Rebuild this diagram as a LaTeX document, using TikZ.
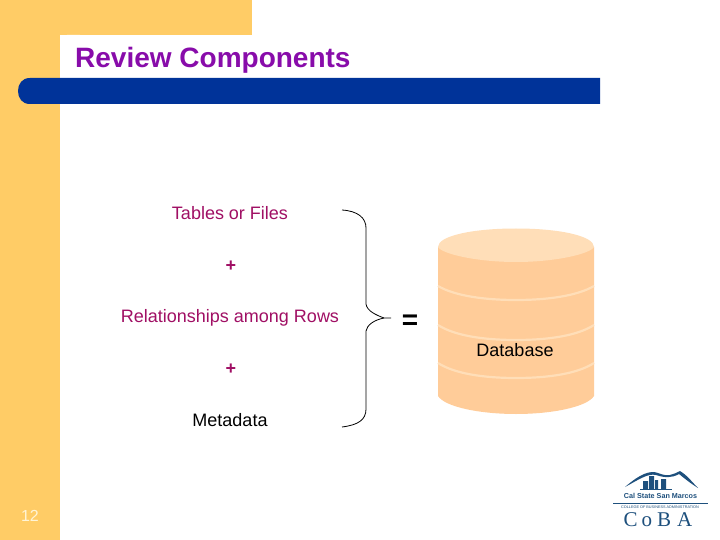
\documentclass[tikz,border=0pt]{standalone}
\usepackage{fontspec}
\setmainfont{Liberation Sans}
\newfontfamily\logoserif{Liberation Serif}
\definecolor{sidebar}{RGB}{255,204,102}
\definecolor{barblue}{RGB}{0,51,153}
\definecolor{titlepurple}{RGB}{136,12,170}
\definecolor{labelpink}{RGB}{160,15,100}
\definecolor{cylbody}{RGB}{255,204,153}
\definecolor{cyltop}{RGB}{255,222,184}
\definecolor{logoblue}{RGB}{30,80,125}
\definecolor{numcream}{RGB}{255,245,215}
\tikzset{
  px/.style={x=1pt,y=-1pt},
  label/.style={font=\fontsize{18}{21}\selectfont,text=labelpink,inner sep=0pt,anchor=center},
  plussign/.style={font=\fontsize{18}{21}\selectfont\bfseries,text=labelpink,inner sep=0pt,anchor=center},
  brace/.style={draw=black,line width=0.8pt},
  band/.style={draw=cyltop,line width=2.2pt},
}
\begin{document}
\begin{tikzpicture}[px]
\useasboundingbox (0,0) rectangle (720,540);
\fill[white] (0,0) rectangle (720,540);
% frame
\fill[sidebar] (0,0) rectangle (252,35);
\fill[sidebar] (0,0) rectangle (60,540);
\fill[white] (61,60) -- (61,41) .. controls (61,37) and (63,35) .. (67,35) -- (80,35) -- (80,60) -- cycle;
\fill[barblue] (30,78) -- (600,78) -- (600,104) -- (30,104) .. controls (22,104) and (18,98) .. (18,91) .. controls (18,84) and (22,78) .. (30,78) -- cycle;
\node[font=\fontsize{28}{32}\selectfont\bfseries,text=titlepurple,inner sep=0pt,anchor=west] (title) at (75,60) {Review Components};
% labels
\node[label] (tables) at (230,213) {Tables or Files};
\node[plussign] (plusa) at (231,266) {+};
\node[label] (rel) at (230,318) {Relationships among Rows};
\node[plussign] (plusb) at (231,369.5) {+};
\node[label,text=black] (meta) at (230,420) {Metadata};
% brace
\coordinate (bt) at (342,210);
\coordinate (bm) at (391,318);
\coordinate (bb) at (342,427);
\draw[brace] (bt) .. controls (358,211) and (366,218) .. (366,228) -- (366,304) .. controls (367,311) and (376,315) .. (384,318) -- (bm);
\draw[brace] (bb) .. controls (358,425) and (366,420) .. (366,409) -- (366,331) .. controls (367,325) and (374,320) .. (384,318);
\node[font=\fontsize{28}{30}\selectfont\bfseries,inner sep=0pt] (eq) at (410,322) {=};
% cylinder
\fill[cylbody] (438,247) -- (438,396) .. controls (445,407) and (480,414) .. (516,414) .. controls (552,414) and (587,407) .. (594,396) -- (594,247) -- cycle;
\draw[band] (438,286) .. controls (455,296) and (485,300) .. (516,300) .. controls (547,300) and (577,296) .. (594,286);
\draw[band] (438,325) .. controls (455,336) and (485,340) .. (516,340) .. controls (547,340) and (577,336) .. (594,325);
\draw[band] (438,363) .. controls (455,374) and (485,378) .. (516,378) .. controls (547,378) and (577,374) .. (594,363);
\fill[cyltop] (516,228.5) .. controls (560,228.5) and (594,236) .. (594,247) .. controls (590,254) and (555,262) .. (516,262) .. controls (477,262) and (442,254) .. (438,247) .. controls (438,236) and (472,228.5) .. (516,228.5) -- cycle;
\node[label,text=black] (db) at (515,350) {Database};
\node[font=\fontsize{16}{18}\selectfont,text=numcream,inner sep=0pt] (num) at (30,516) {12};
% logo
\fill[logoblue] (625,487) .. controls (640,474) and (650,470) .. (658,473) .. controls (668,477) and (672,475) .. (680,471) .. controls (688,476) and (692,482) .. (698,488) .. controls (690,483) and (684,478) .. (679,474) .. controls (672,478) and (665,478) .. (656,475) .. controls (648,473) and (638,480) .. (625,487) -- cycle;
\fill[logoblue] (643,489) rectangle (648,481) (649,489) rectangle (654,476) (655,489) rectangle (658,480) (661,489) rectangle (666,479);
\draw[logoblue,line width=0.6pt] (640,489) -- (672,489);
\node[font=\fontsize{7.2}{8}\selectfont\bfseries,text=logoblue,inner sep=0pt] (csu) at (660.5,496) {Cal State San Marcos};
\draw[logoblue,line width=0.7pt] (613,503.5) -- (708,503.5);
\node[font=\fontsize{3.8}{5}\selectfont,text=logoblue,inner sep=0pt] (coll) at (660,507.5) {COLLEGE OF BUSINESS ADMINISTRATION};
\node[font=\logoserif\fontsize{21}{24}\selectfont,text=logoblue,inner sep=0pt] (coba) at (658,520) {C\hspace{4pt}o\hspace{5pt}B\hspace{6pt}A};
\end{tikzpicture}
\end{document}
